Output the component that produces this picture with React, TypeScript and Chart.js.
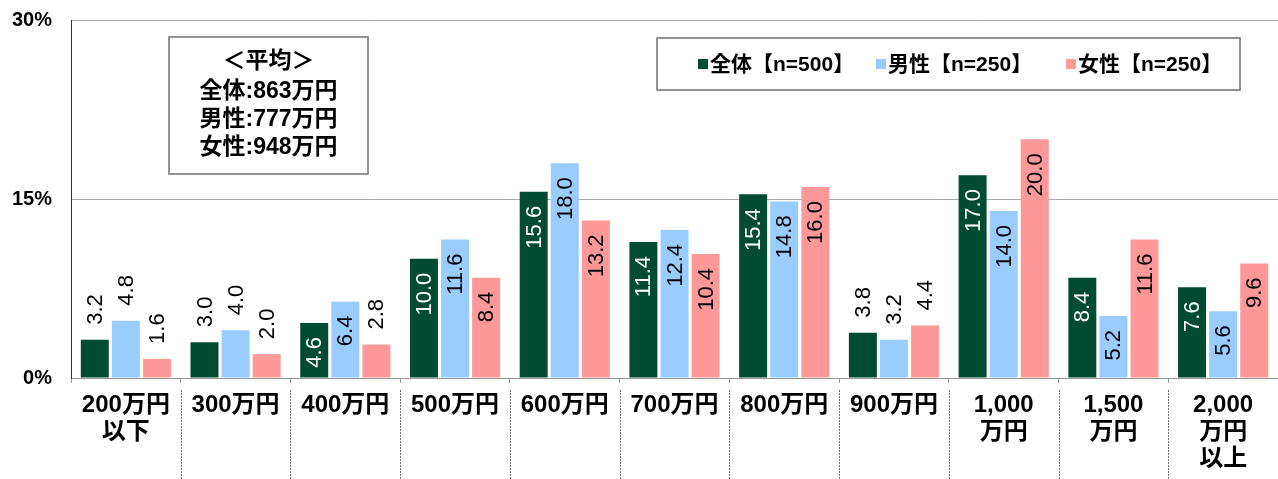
import React, { useEffect, useRef } from 'react';
import { Chart, registerables } from 'chart.js';

Chart.register(...registerables);

// ---- data ----
const categories: string[][] = [
  ['200万円', '以下'],
  ['300万円'],
  ['400万円'],
  ['500万円'],
  ['600万円'],
  ['700万円'],
  ['800万円'],
  ['900万円'],
  ['1,000', '万円'],
  ['1,500', '万円'],
  ['2,000', '万円', '以上'],
];
const seriesNames = ['全体', '男性', '女性'];
const sampleSizes = [500, 250, 250];
const totalValues = [3.2, 3.0, 4.6, 10.0, 15.6, 11.4, 15.4, 3.8, 17.0, 8.4, 7.6];
const maleValues = [4.8, 4.0, 6.4, 11.6, 18.0, 12.4, 14.8, 3.2, 14.0, 5.2, 5.6];
const femaleValues = [1.6, 2.0, 2.8, 8.4, 13.2, 10.4, 16.0, 4.4, 20.0, 11.6, 9.6];
const averageTitle = '＜平均＞';
const averageValues = [863, 777, 948];
const yTicks = [0, 15, 30];

// ---- style ----
const FONT = '"Liberation Sans", "Noto Sans CJK JP", sans-serif';
const colors = ['#004B32', '#99CCFF', '#FF9999'];
const labelInsideMin = [4.5, 5, 5];
const PLOT_TOP = 20;

const fixTopPlugin = {
  id: 'fixTop',
  afterLayout(chart: any) {
    const a = chart.chartArea;
    a.top = PLOT_TOP;
    a.height = a.bottom - a.top;
    const y = chart.scales.y;
    y.top = PLOT_TOP;
    y.height = y.bottom - PLOT_TOP;
    y.configure();
  },
};

const barLabelsPlugin = {
  id: 'barLabels',
  afterDatasetsDraw(chart: any) {
    const ctx = chart.ctx;
    chart.data.datasets.forEach((ds: any, di: number) => {
      const meta = chart.getDatasetMeta(di);
      meta.data.forEach((bar: any, i: number) => {
        const v = ds.data[i] as number;
        const inside = v >= labelInsideMin[di];
        ctx.save();
        ctx.translate(bar.x, bar.y);
        ctx.rotate(-Math.PI / 2);
        ctx.font = `22px ${FONT}`;
        ctx.textBaseline = 'middle';
        ctx.fillStyle = inside && di === 0 ? '#ffffff' : '#000000';
        if (inside) {
          ctx.textAlign = 'right';
          ctx.fillText(v.toFixed(1), -14, 1);
        } else {
          ctx.textAlign = 'left';
          ctx.fillText(v.toFixed(1), 15, 1);
        }
        ctx.restore();
      });
    });
  },
};

const decorPlugin = {
  id: 'decor',
  afterDraw(chart: any) {
    const ctx = chart.ctx;
    const area = chart.chartArea;
    const n = categories.length;
    const w = (area.right - area.left) / n;
    // dashed separators under the axis
    ctx.save();
    ctx.strokeStyle = '#777777';
    ctx.lineWidth = 1;
    ctx.setLineDash([2, 1]);
    for (let i = 1; i < n; i++) {
      const x = Math.round(area.left + i * w) + 0.5;
      ctx.beginPath();
      ctx.moveTo(x, area.bottom + 12);
      ctx.lineTo(x, chart.height);
      ctx.stroke();
    }
    ctx.restore();

    // average box
    ctx.save();
    ctx.fillStyle = '#ffffff';
    ctx.strokeStyle = '#707070';
    ctx.lineWidth = 1.5;
    ctx.fillRect(169, 37, 199, 137);
    ctx.strokeRect(169, 37, 199, 137);
    ctx.fillStyle = '#000000';
    ctx.font = `bold 23px ${FONT}`;
    ctx.textAlign = 'center';
    ctx.textBaseline = 'middle';
    const cx = 268.5;
    ctx.fillText(averageTitle, cx, 62);
    averageValues.forEach((v, i) => {
      ctx.fillText(`${seriesNames[i]}:${v}万円`, cx, 92 + i * 28);
    });
    ctx.restore();

    // legend box
    ctx.save();
    ctx.fillStyle = '#ffffff';
    ctx.strokeStyle = '#707070';
    ctx.lineWidth = 1.5;
    ctx.fillRect(657, 38, 583, 52);
    ctx.strokeRect(657, 38, 583, 52);
    ctx.font = `bold 21px ${FONT}`;
    ctx.textBaseline = 'middle';
    ctx.textAlign = 'left';
    const itemX = [698, 876, 1066];
    seriesNames.forEach((name, i) => {
      ctx.fillStyle = colors[i];
      ctx.fillRect(itemX[i], 59, 10, 10);
      ctx.fillStyle = '#000000';
      ctx.fillText(`${name}【n=${sampleSizes[i]}】`, itemX[i] + 12, 65);
    });
    ctx.restore();
  },
};

export default function App() {
  const ref = useRef<HTMLCanvasElement>(null);
  useEffect(() => {
    if (!ref.current) return;
    const chart = new Chart(ref.current, {
      type: 'bar',
      data: {
        labels: categories,
        datasets: [totalValues, maleValues, femaleValues].map((d, i) => ({
          label: `${seriesNames[i]}【n=${sampleSizes[i]}】`,
          data: d,
          backgroundColor: colors[i],
          borderWidth: 0,
          categoryPercentage: 0.85,
          barPercentage: 0.9,
        })),
      },
      options: {
        responsive: false,
        animation: false,
        layout: { autoPadding: false, padding: { left: 0, top: PLOT_TOP, right: 0, bottom: 0 } },
        plugins: { legend: { display: false }, tooltip: { enabled: false } },
        scales: {
          x: {
            grid: { offset: true, drawOnChartArea: false, tickLength: 5, color: '#999999' },
            border: { color: '#999999' },
            ticks: {
              font: { size: 24, weight: 'bold', family: FONT, lineHeight: 1.12 },
              color: '#000000',
              padding: 9,
              maxRotation: 0,
              minRotation: 0,
              autoSkip: false,
            },
            afterFit: (s: any) => {
              s.height = 101;
            },
          },
          y: {
            min: 0,
            max: 30,
            afterBuildTicks: (s: any) => {
              s.ticks = yTicks.map((v) => ({ value: v }));
            },
            grid: { color: '#aaaaaa', drawTicks: false },
            border: { color: '#333333' },
            ticks: {
              callback: (v: any) => `${v}%`,
              font: { size: 20, weight: 'bold', family: FONT },
              color: '#000000',
              padding: 19,
            },
            afterFit: (s: any) => {
              s.width = 71;
            },
          },
        },
      },
      plugins: [fixTopPlugin, barLabelsPlugin, decorPlugin],
    });
    return () => chart.destroy();
  }, []);
  return (
    <div style={{ position: 'absolute', left: 0, top: 0, width: 1278, height: 479 }}>
      <canvas ref={ref} width={1278} height={479} />
    </div>
  );
}
